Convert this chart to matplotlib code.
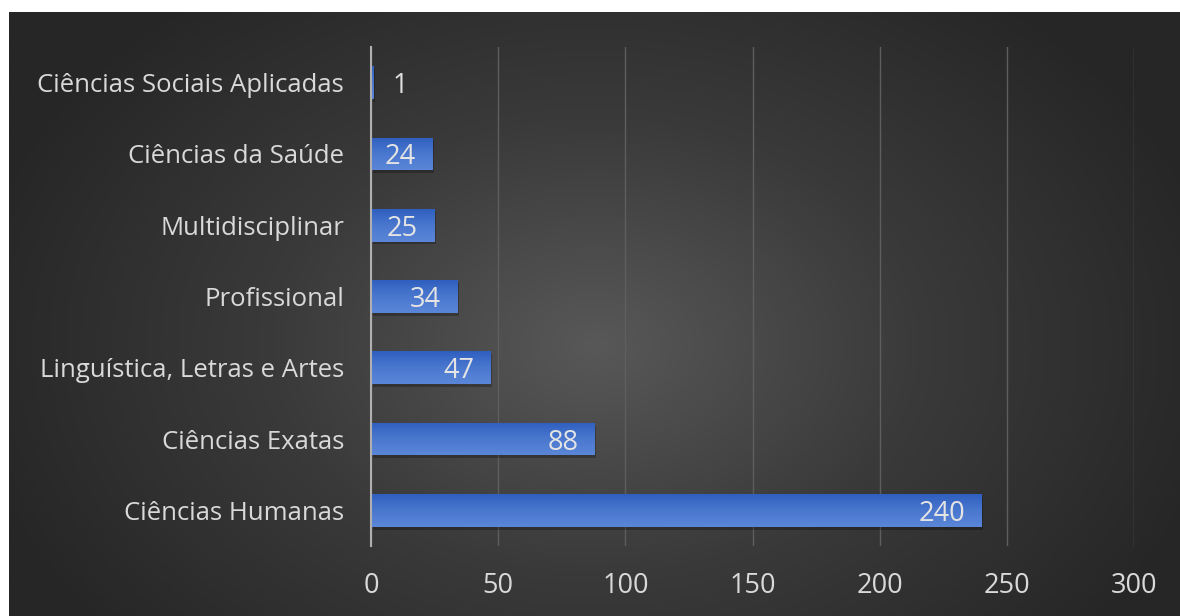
import numpy as np
import matplotlib
matplotlib.use("Agg")
import matplotlib.pyplot as plt
from matplotlib.colors import LinearSegmentedColormap

categories = ["Ciências Humanas", "Ciências Exatas", "Linguística, Letras e Artes",
              "Profissional", "Multidisciplinar", "Ciências da Saúde",
              "Ciências Sociais Aplicadas"]
values = [240, 88, 47, 34, 25, 24, 1]
xticks = [0, 50, 100, 150, 200, 250, 300]

plt.rcParams['font.family'] = ['Open Sans', 'DejaVu Sans']
FS = 18.5
FS_NUM = 19.5

W, H = 1180, 616
fig = plt.figure(figsize=(W / 100, H / 100), dpi=100)
fig.patch.set_facecolor("white")

# background radial gradient
bg = fig.add_axes([9 / W, 0, (W - 9) / W, (H - 12) / H])
bg.set_axis_off()
ny, nx = 300, 600
yy, xx = np.mgrid[0:ny, 0:nx]
cx, cy = nx * 0.5, ny * 0.55
r = np.sqrt(((xx - cx) / (nx * 0.55)) ** 2 + ((yy - cy) / (ny * 0.75)) ** 2)
r = np.clip(r, 0, 1)
cmap_bg = LinearSegmentedColormap.from_list("bg", ["#585858", "#3a3a3a", "#262626"])
bg.imshow(r, cmap=cmap_bg, aspect="auto", extent=[0, 1, 0, 1], vmin=0, vmax=1)
bg.set_xlim(0, 1)
bg.set_ylim(0, 1)

ax = fig.add_axes([371 / W, 1 - 546 / H, (1134 - 371) / W, (546 - 47) / H])
ax.patch.set_alpha(0)

y = np.arange(len(categories))
bar_h = 0.46
ax.set_xlim(0, 300)
ax.set_ylim(-0.5, len(categories) - 0.5)

# grid
ax.set_xticks(xticks)
ax.xaxis.grid(True, color="#5e5e5e", linewidth=1.0)
ax.set_axisbelow(True)

grad = LinearSegmentedColormap.from_list("bar", ["#5b86d8", "#4a78cf", "#2f5fbf"])
gimg = np.linspace(0, 1, 64).reshape(-1, 1)
for yi, v in zip(y, values):
    # shadow
    ax.barh(yi - 0.04, v, height=bar_h, left=0.6, color="black", alpha=0.25, zorder=2, linewidth=0)
    b = ax.barh(yi, v, height=bar_h, color="#4472C4", zorder=3, linewidth=0)[0]
    im = ax.imshow(gimg, cmap=grad, aspect="auto", zorder=4,
                   extent=[0, v, yi + bar_h / 2, yi - bar_h / 2])
    im.set_clip_path(b)
    if v >= 10:
        ax.text(v - 6.5, yi, str(v), ha="right", va="center_baseline", color="#e4e4e4",
                fontsize=FS_NUM, zorder=5)
    else:
        ax.text(v + 7.5, yi, str(v), ha="left", va="center_baseline", color="#e0e0e0",
                fontsize=FS_NUM, zorder=5)

ax.set_xlim(0, 300)
ax.set_ylim(-0.5, len(categories) - 0.5)

ax.set_yticks(y)
ax.set_yticklabels(categories, va="center_baseline")
for s in ["top", "right", "bottom"]:
    ax.spines[s].set_visible(False)
ax.spines["left"].set_color("#b0b0b0")
ax.spines["left"].set_linewidth(1.5)
ax.spines["left"].set_zorder(6)
ax.tick_params(axis="y", length=0, colors="#d9d9d9", labelsize=FS, pad=19.5)
ax.tick_params(axis="x", length=0, colors="#d9d9d9", labelsize=FS_NUM, pad=19)

fig.savefig("out.png", dpi=100)
